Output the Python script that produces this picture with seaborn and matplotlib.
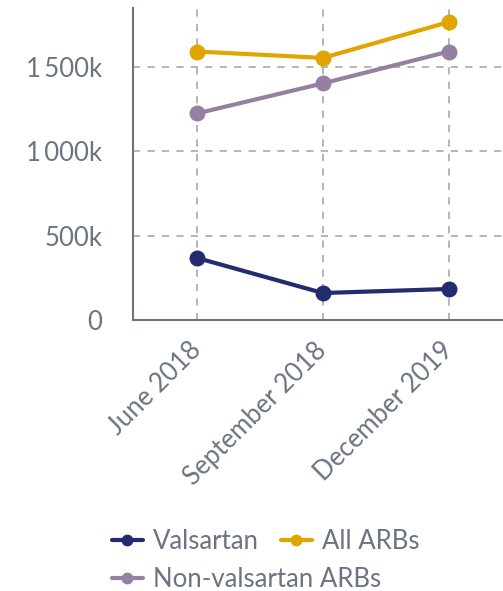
import matplotlib
matplotlib.use("Agg")
import matplotlib.pyplot as plt
import seaborn as sns
import pandas as pd
from matplotlib.ticker import FuncFormatter
from matplotlib.lines import Line2D

periods = ["June 2018", "September 2018", "December 2019"]
valsartan = [368000, 160000, 184000]
all_arbs = [1592000, 1554000, 1767000]
non_valsartan = [1225000, 1403000, 1592000]
series_names = ["Valsartan", "All ARBs", "Non-valsartan ARBs"]
colors = ["#232c6f", "#e1a500", "#957fa3"]

df = pd.DataFrame({
    "period": periods * 3,
    "value": valsartan + all_arbs + non_valsartan,
    "series": [series_names[0]] * 3 + [series_names[1]] * 3 + [series_names[2]] * 3,
})

sns.set_theme(style="white")
plt.rcParams["font.family"] = ["Lato", "DejaVu Sans"]
text_color = "#6b7480"

fig = plt.figure(figsize=(5.03, 5.91), dpi=100)
ax = fig.add_axes([133 / 503, 1 - 320 / 591, 370 / 503, 312 / 591])

sns.lineplot(data=df, x="period", y="value", hue="series", hue_order=series_names,
             palette=colors, marker="o", markersize=11.5, markeredgewidth=0,
             linewidth=3, ax=ax, legend=False, sort=False)

ax.set_xlim(-0.508, 2.43)
ax.set_ylim(0, 1850000)
ax.set_yticks([0, 500000, 1000000, 1500000])

def fmt(v, pos):
    if v == 0:
        return "0"
    k = int(round(v / 1000))
    return f"{k:,}".replace(",", "\u2009") + "k"

ax.yaxis.set_major_formatter(FuncFormatter(fmt))
ax.set_xlabel("")
ax.set_ylabel("")
ax.grid(True, linestyle=(0, (4, 4)), color="#b0b0b0", linewidth=1.3)
for s in ["top", "right"]:
    ax.spines[s].set_visible(False)
for s in ["left", "bottom"]:
    ax.spines[s].set_color("#6b7480")
    ax.spines[s].set_linewidth(1.5)
ax.tick_params(axis="both", length=0, labelsize=18.5, colors=text_color)
ax.tick_params(axis="y", pad=22)
ax.tick_params(axis="x", pad=19)
for lab in ax.get_xticklabels():
    lab.set_rotation(45)
    lab.set_ha("right")
    lab.set_va("center")
    lab.set_rotation_mode("anchor")

handles = [Line2D([0], [0], color=c, lw=3, marker="o", markersize=7.5) for c in colors]
common = dict(frameon=False, fontsize=18.5, handlelength=1.2, handletextpad=0.4,
              columnspacing=0.85, borderaxespad=0, borderpad=0, loc="upper left")
leg1 = fig.legend(handles[:2], series_names[:2], ncol=2,
                  bbox_to_anchor=(112 / 503, 1 - 529 / 591), **common)
leg2 = fig.legend(handles[2:], series_names[2:], ncol=1,
                  bbox_to_anchor=(112 / 503, 1 - 567 / 591), **common)
for leg in (leg1, leg2):
    for t in leg.get_texts():
        t.set_color(text_color)

fig.savefig("out.png", dpi=100)
